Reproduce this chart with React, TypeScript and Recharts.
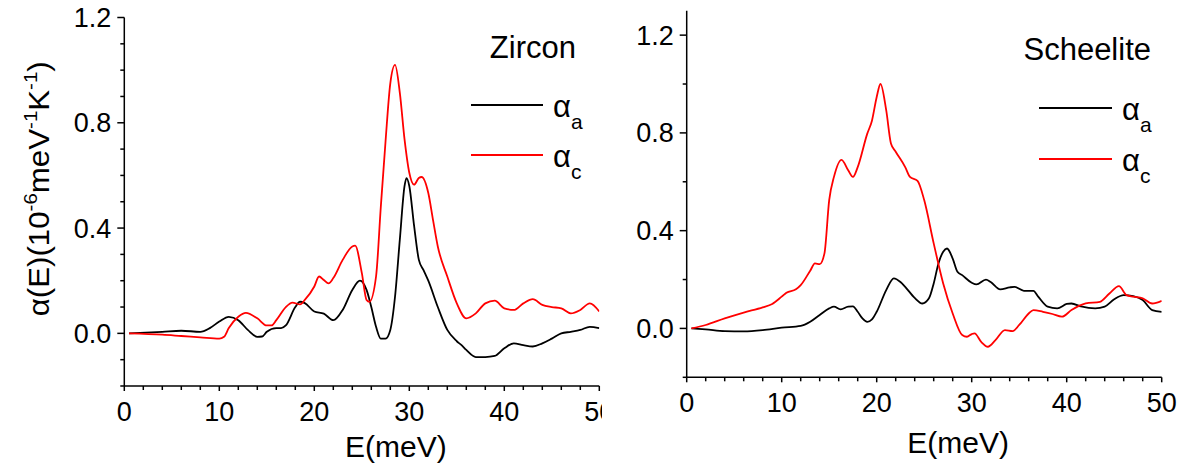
import { LineChart, Line, XAxis, YAxis, Legend, Label } from "recharts";

// E (meV) vs alpha(E), [x, y]
const zirconAlphaA = [
  [0.5, 0], [4, 0.006], [6, 0.01], [8, 0.006], [9, 0.02], [10, 0.045], [11, 0.063],
  [12, 0.05], [13, 0.013], [14, -0.013], [14.5, -0.012], [15, 0.006], [16, 0.02],
  [16.5, 0.02], [17, 0.03], [18, 0.1], [18.5, 0.12], [19, 0.115], [20, 0.083],
  [21, 0.075], [22, 0.05], [23, 0.09], [24, 0.165], [24.8, 0.2], [25.5, 0.165],
  [26, 0.1], [26.5, 0.025], [27, -0.02], [27.5, -0.02], [28, 0.013], [28.5, 0.14],
  [29, 0.355], [29.5, 0.56], [29.7, 0.59], [30, 0.56], [30.5, 0.41], [31, 0.28],
  [31.5, 0.24], [32, 0.2], [33, 0.1], [34, 0.013], [35, -0.03], [35.5, -0.045],
  [36, -0.063], [37, -0.09], [38, -0.09], [39, -0.086], [40, -0.057], [41, -0.038],
  [42, -0.045], [43, -0.05], [44, -0.038], [45, -0.02], [46, 0], [47, 0.006],
  [48, 0.013], [49, 0.025], [50, 0.02],
];
const zirconAlphaC = [
  [0.5, 0], [4, -0.005], [6, -0.01], [8, -0.015], [10, -0.02], [10.5, -0.013],
  [11, 0.02], [12, 0.063], [12.8, 0.078], [14, 0.057], [15, 0.03], [15.5, 0.03],
  [16, 0.05], [17, 0.1], [17.7, 0.117], [18.5, 0.11], [19, 0.127], [20, 0.178],
  [20.5, 0.216], [21, 0.203], [21.5, 0.19], [22, 0.21], [23, 0.28], [24, 0.33],
  [24.3, 0.333], [25, 0.23], [25.5, 0.127], [25.8, 0.12], [26.5, 0.216], [27, 0.48],
  [27.5, 0.73], [28, 0.95], [28.5, 1.02], [29, 0.915], [29.5, 0.737], [30, 0.61],
  [30.5, 0.565], [31, 0.59], [31.3, 0.594], [32, 0.533], [32.5, 0.43], [33, 0.33],
  [34, 0.216], [35, 0.114], [36, 0.057], [37, 0.076], [38, 0.114], [39, 0.124],
  [40, 0.095], [41, 0.089], [42, 0.114], [43, 0.13], [44, 0.108], [45, 0.1],
  [46, 0.095], [47, 0.076], [48, 0.089], [49, 0.114], [50, 0.083],
];
const scheeliteAlphaA = [
  [0.5, 0], [2, -0.004], [4, -0.011], [6, -0.012], [8, -0.007], [10, 0.003],
  [12, 0.01], [13, 0.027], [14, 0.055], [15, 0.082], [15.5, 0.089], [16.2, 0.078],
  [17, 0.089], [17.5, 0.09], [18, 0.068], [18.5, 0.041], [19, 0.027], [19.5, 0.037],
  [20, 0.068], [21, 0.157], [21.8, 0.205], [22.5, 0.19], [23, 0.17], [24, 0.125],
  [24.8, 0.102], [25.5, 0.123], [26, 0.184], [26.5, 0.266], [27, 0.314], [27.4, 0.327],
  [28, 0.286], [28.5, 0.232], [29, 0.218], [30, 0.187], [30.5, 0.18], [31.5, 0.2],
  [32, 0.19], [33, 0.16], [34, 0.168], [34.5, 0.17], [35.5, 0.154], [36.5, 0.154],
  [37, 0.13], [38, 0.089], [39, 0.082], [40, 0.1], [40.5, 0.102], [41.5, 0.09],
  [43, 0.082], [44, 0.089], [45, 0.119], [46, 0.136], [47, 0.132], [48, 0.116],
  [49, 0.075], [50, 0.068],
];
const scheeliteAlphaC = [
  [0.5, 0], [2, 0.014], [4, 0.041], [6, 0.065], [8, 0.086], [9, 0.1], [10, 0.13],
  [10.5, 0.146], [11.5, 0.16], [12, 0.177], [13, 0.236], [13.5, 0.266], [14, 0.263],
  [14.5, 0.307], [15, 0.525], [15.5, 0.62], [16.3, 0.69], [17, 0.647], [17.5, 0.62],
  [18, 0.66], [19, 0.796], [19.5, 0.85], [20, 0.947], [20.4, 1.0], [21, 0.893],
  [21.5, 0.757], [22, 0.723], [23, 0.66], [23.5, 0.62], [24.3, 0.604], [25, 0.525],
  [26, 0.348], [27, 0.184], [28, 0.061], [29, -0.027], [29.5, -0.034], [30, -0.023],
  [30.3, -0.02], [31, -0.055], [31.7, -0.075], [32.5, -0.048], [33.5, -0.007],
  [34.3, -0.011], [35, 0.014], [36, 0.061], [36.5, 0.075], [37.5, 0.068],
  [38.5, 0.059], [39.5, 0.048], [40.5, 0.075], [42, 0.102], [43.5, 0.109],
  [44.5, 0.143], [45.5, 0.173], [46.3, 0.136], [47, 0.13], [48, 0.123], [49, 0.102],
  [50, 0.113],
];

const xTicks = [0, 2, 4, 6, 8, 10, 12, 14, 16, 18, 20, 22, 24, 26, 28, 30, 32, 34, 36, 38, 40, 42, 44, 46, 48, 50];
const xMajor = [0, 10, 20, 30, 40, 50];
const zirconYTicks = [-0.2, -0.1, 0, 0.1, 0.2, 0.3, 0.4, 0.5, 0.6, 0.7, 0.8, 0.9, 1.0, 1.1, 1.2];
const scheeliteYTicks = [-0.2, 0, 0.2, 0.4, 0.6, 0.8, 1.0, 1.2];
const yMajor = [0, 0.4, 0.8, 1.2];

const seriesNames = ["α_a", "α_c"];
const seriesColors = ["#000000", "#ff0000"];

const FONT = "'Liberation Sans', Arial, Helvetica, sans-serif";

const toPoints = (arr) => arr.map(([x, y]) => ({ x, y }));

const XTick = ({ x, y, payload }) => {
  const major = xMajor.includes(payload.value);
  return (
    <g>
      <line x1={x} x2={x} y1={y} y2={y + (major ? 5 : 4)} stroke="#000" strokeWidth={1.5} />
      {major && (
        <text x={x} y={y + 35} textAnchor="middle" fontSize={27} fontFamily={FONT} fill="#000">
          {payload.value}
        </text>
      )}
    </g>
  );
};

const YTick = ({ x, y, payload }) => {
  const major = yMajor.some((v) => Math.abs(v - payload.value) < 1e-6);
  return (
    <g>
      <line x1={x - (major ? 7 : 4)} x2={x} y1={y} y2={y} stroke="#000" strokeWidth={1.5} />
      {major && (
        <text x={x - 13} y={y + 9.5} textAnchor="end" fontSize={27} fontFamily={FONT} fill="#000">
          {payload.value.toFixed(1)}
        </text>
      )}
    </g>
  );
};

const YTitle = (props) => {
  const vb = props.viewBox || { x: 0, y: 17.5, width: 124.3, height: 368.5 };
  const cx = 49;
  const cy = vb.y + vb.height / 2 - 13;
  return (
    <text
      x={cx}
      y={cy}
      transform={`rotate(-90 ${cx} ${cy})`}
      textAnchor="middle"
      fontSize={29}
      fontFamily={FONT}
      fill="#000"
      textLength={255}
      lengthAdjust="spacingAndGlyphs"
    >
      α(E)(10
      <tspan dy={-12} fontSize={19}>-6</tspan>
      <tspan dy={12}>meV</tspan>
      <tspan dy={-12} fontSize={19}>-1</tspan>
      <tspan dy={12}>K</tspan>
      <tspan dy={-12} fontSize={19}>-1</tspan>
      <tspan dy={12}>)</tspan>
    </text>
  );
};

const makeLegend = (cfg) => (props) => {
  const items = props.payload || [];
  return (
    <svg width={cfg.width} height={cfg.height} style={{ overflow: "visible", display: "block" }}>
      <text x={cfg.titleX} y={cfg.titleY} textAnchor="end" fontSize={31} fontFamily={FONT} fill="#000">
        {cfg.title}
      </text>
      {items.map((item, i) => {
        const [main, sub] = String(item.value).split("_");
        const ly = cfg.rowY[i];
        return (
          <g key={item.value}>
            <line x1={cfg.lineX1} x2={cfg.lineX2} y1={ly} y2={ly} stroke={item.color} strokeWidth={2} />
            <text x={cfg.textX} y={ly + 12} fontSize={31} fontFamily={FONT} fill="#000">
              {main}
              <tspan dy={12} fontSize={21}>{sub}</tspan>
            </text>
          </g>
        );
      })}
    </svg>
  );
};

const panels = [
  {
    key: "zircon",
    left: 0,
    width: 602,
    margin: { top: 17.5, right: 2.7, bottom: 0, left: 0 },
    yAxisWidth: 124.3,
    xAxisHeight: 82,
    yDomain: [-0.2, 1.2],
    yTicks: zirconYTicks,
    series: [zirconAlphaA, zirconAlphaC],
    xLabelOffset: 11,
    showYTitle: true,
    legend: {
      left: 460, top: 20, width: 140, height: 130,
      title: "Zircon", titleX: 116, titleY: 38,
      lineX1: 11, lineX2: 83, rowY: [85, 135], textX: 93,
    },
  },
  {
    key: "scheelite",
    left: 600,
    width: 589,
    margin: { top: 10.7, right: 27.3, bottom: 0, left: 0 },
    yAxisWidth: 86.7,
    xAxisHeight: 90.7,
    yDomain: [-0.2, 1.3],
    yTicks: scheeliteYTicks,
    series: [scheeliteAlphaA, scheeliteAlphaC],
    xLabelOffset: 15,
    showYTitle: false,
    legend: {
      left: 430, top: 20, width: 140, height: 130,
      title: "Scheelite", titleX: 121, titleY: 40,
      lineX1: 9, lineX2: 82, rowY: [88, 139], textX: 92,
    },
  },
];

export default function App() {
  return (
    <div style={{ position: "absolute", left: 0, top: 0, width: 1189, height: 468, background: "#fff" }}>
      {panels.map((p) => (
        <div key={p.key} style={{ position: "absolute", left: p.left, top: 0 }}>
          <LineChart width={p.width} height={468} margin={p.margin}>
            <XAxis
              dataKey="x"
              type="number"
              domain={[0, 50]}
              ticks={xTicks}
              interval={0}
              tick={<XTick />}
              tickLine={false}
              tickSize={0}
              tickMargin={0}
              height={p.xAxisHeight}
              axisLine={{ stroke: "#000", strokeWidth: 1.5 }}
              allowDataOverflow
            >
              <Label
                value="E(meV)"
                position="insideBottom"
                offset={p.xLabelOffset}
                dx={34}
                fontSize={30}
                fontFamily={FONT}
                fill="#000"
              />
            </XAxis>
            <XAxis
              xAxisId="top"
              orientation="top"
              type="number"
              domain={[0, 50]}
              tick={false}
              tickLine={false}
              height={0}
              axisLine={{ stroke: "#000", strokeWidth: 1.5 }}
            />
            <YAxis
              type="number"
              domain={p.yDomain}
              ticks={p.yTicks}
              interval={0}
              tick={<YTick />}
              tickLine={false}
              tickSize={0}
              tickMargin={0}
              width={p.yAxisWidth}
              axisLine={{ stroke: "#000", strokeWidth: 1.5 }}
              allowDataOverflow
            >
              {p.showYTitle && <Label content={<YTitle />} />}
            </YAxis>
            <YAxis
              yAxisId="right"
              orientation="right"
              type="number"
              domain={p.yDomain}
              tick={false}
              tickLine={false}
              width={0}
              axisLine={{ stroke: "#000", strokeWidth: 1.5 }}
            />
            {p.series.map((s, i) => (
              <Line
                key={seriesNames[i]}
                data={toPoints(s)}
                dataKey="y"
                name={seriesNames[i]}
                type="monotone"
                stroke={seriesColors[i]}
                strokeWidth={1.8}
                dot={false}
                activeDot={false}
                isAnimationActive={false}
              />
            ))}
            <Legend
              layout="horizontal"
              verticalAlign="middle"
              align="center"
              content={makeLegend(p.legend)}
              wrapperStyle={{
                position: "absolute",
                left: p.legend.left,
                top: p.legend.top,
                width: p.legend.width,
                height: p.legend.height,
              }}
            />
          </LineChart>
        </div>
      ))}
    </div>
  );
}
